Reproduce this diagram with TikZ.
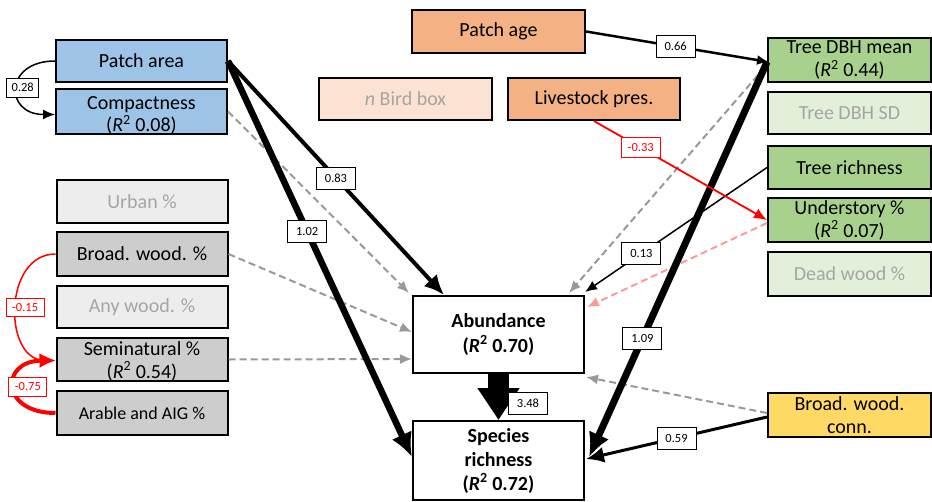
\documentclass[tikz,border=0pt]{standalone}
\usepackage{fontspec}
\setmainfont{Carlito}
\usetikzlibrary{arrows.meta,calc}
\definecolor{cblue}{HTML}{9DC3E6}
\definecolor{clgray}{HTML}{EDEDED}
\definecolor{cdgray}{HTML}{CDCDCD}
\definecolor{corange}{HTML}{F4B183}
\definecolor{clorange}{HTML}{FBE2D2}
\definecolor{cgreen}{HTML}{A9D18E}
\definecolor{clgreen}{HTML}{E2F0D9}
\definecolor{cyellow}{HTML}{FFD966}
\definecolor{cfaint}{HTML}{A5A5A5}
\definecolor{cdash}{HTML}{999999}
\definecolor{cpink}{HTML}{FF9A9A}
\definecolor{cred}{HTML}{FF0000}
\newcommand\RsqX{\textit{R}\textsuperscript{2}}
\begin{document}
\begin{tikzpicture}[x=1pt,y=-1pt,
  box/.style={draw=black,line width=2pt,align=center,inner sep=0pt,
    font=\fontsize{20}{23}\selectfont},
  lw/.style={box,minimum width=171pt},
  rw/.style={box,minimum width=163pt},
  h42/.style={minimum height=42pt},
  h44/.style={minimum height=44pt},
  faint/.style={text=cfaint},
  lab/.style={draw=black,fill=white,line width=0.9pt,inner sep=0pt,
    minimum width=39pt,minimum height=22pt,font=\fontsize{12.5}{14}\selectfont},
  llab/.style={lab,minimum width=32pt,minimum height=19pt},
  redlab/.style={draw=cred,text=cred,minimum width=38pt,minimum height=18pt},
  thinarr/.style={line width=1.5pt,-{Latex[length=12pt,width=10pt]}},
  grayarr/.style={cdash,line width=2pt,dash pattern=on 7pt off 4pt,
    -{Latex[length=12pt,width=10pt]}},
  pinkarr/.style={grayarr,draw=cpink},
  medarr/.style={line width=4pt,-{Latex[length=20pt,width=18pt]}},
  bigarr/.style={line width=6.5pt,-{Latex[length=24pt,width=22pt]}}
]
\useasboundingbox (0,0) rectangle (932,501);

% left column
\node[lw,h42,fill=cblue] (pa) at (141.5,61) {Patch area};
\node[lw,minimum height=41pt,fill=cblue,font=\fontsize{20}{22}\selectfont] (comp) at (141.5,111.5) {\rule{0pt}{21pt}Compactness\\(\RsqX{} 0.08)};
\node[lw,minimum height=43pt,fill=clgray,faint] (urban) at (142,201.5) {Urban \%};
\node[lw,h44,fill=cdgray] (bw) at (142,254) {Broad. wood. \%};
\node[lw,h42,fill=clgray,faint] (aw) at (142,307) {Any wood. \%};
\node[lw,minimum height=43pt,fill=cdgray] (semi) at (142,359.5) {\rule{0pt}{17pt}Seminatural \%\\(\RsqX{} 0.54)};
\node[lw,h44,fill=cdgray,font=\fontsize{18}{21}\selectfont] (arable) at (142,413) {Arable and AIG \%};

% top
\node[box,minimum width=173pt,minimum height=43pt,fill=corange] (age) at (498.5,31.5) {Patch age};
\node[box,minimum width=173pt,h42,fill=clorange,faint] (bird) at (405.5,99) {\textit{n} Bird box};
\node[box,minimum width=172pt,h42,fill=corange] (live) at (594,99) {Livestock pres.};

% right column
\node[rw,h44,fill=cgreen] (dbh) at (849.5,60) {Tree DBH mean\\(\RsqX{} 0.44)};
\node[rw,h42,fill=clgreen,faint] (dbhsd) at (849.5,113) {Tree DBH SD};
\node[rw,minimum height=43pt,fill=cgreen] (trich) at (849.5,167.5) {Tree richness};
\node[rw,h44,fill=cgreen] (under) at (849.5,220) {Understory \%\\(\RsqX{} 0.07)};
\node[rw,h44,fill=clgreen,faint] (dead) at (849.5,274) {Dead wood \%};
\node[rw,h44,fill=cyellow] (bwc) at (849.5,415) {Broad. wood.\\conn.};

% centre
\node[box,minimum width=171pt,minimum height=77pt,fill=white,font=\fontsize{20}{25}\selectfont\bfseries] (abund) at (498.5,334.5) {Abundance\\(\RsqX{} 0.70)};
\node[box,minimum width=171pt,minimum height=79pt,fill=white,font=\fontsize{20}{24}\selectfont\bfseries] (sr) at (498.5,460.5) {Species\\richness\\(\RsqX{} 0.72)};

% left curves
\draw[thinarr] (pa.west) .. controls (4,61) and (4,114.5) .. ($(comp.west)+(0,3)$)
  node[llab,pos=0.5,xshift=6pt] {0.28};
\draw[cred,line width=1.5pt,-{Latex[length=12pt,width=10pt]}] (bw.west) .. controls (3,254) and (3,360) .. ($(semi.west)+(0,1)$)
  node[llab,redlab,pos=0.5,xshift=9pt] {-0.15};
\draw[cred,line width=4pt,-{Latex[length=16pt,width=15pt]}] (arable.west) .. controls (0,413) and (0,361) .. ($(semi.west)+(0,1)$)
  node[llab,redlab,pos=0.5,xshift=14pt,minimum height=19pt] {-0.75};

% dashed gray into abundance
\draw[grayarr] (comp.east) -- ($(abund.north west)+(-3,-2)$);
\draw[grayarr] (bw.east) -- ($(abund.north west)+(0,37)$);
\draw[grayarr] (semi.east) -- ($(abund.north west)+(0,64)$);
\draw[grayarr] ($(dbh.west)+(-2,7)$) -- ($(abund.north east)+(-16,-2)$);
\draw[pinkarr] ($(under.west)+(0,3)$) -- ($(abund.north east)+(2,12)$);
\draw[grayarr] ($(bwc.west)+(0,-2)$) -- ($(abund.south east)+(1,3)$);

% black paths
\draw[medarr] (pa.east) -- ($(abund.north west)+(32,0)$) node[lab,pos=0.5] {0.83};
\draw[bigarr] (pa.east) -- ($(sr.north west)+(0,37)$) node[lab,pos=0.43] {1.02};
\draw[thinarr,line width=2.5pt] (age.east) -- ($(dbh.west)+(2,2)$) node[lab,pos=0.49] {0.66};
\draw[bigarr,line width=7pt] ($(dbh.west)+(0,2)$) -- ($(sr.north east)+(4,37)$) node[lab,pos=0.7] {1.09};
\draw[thinarr] (trich.west) -- ($(abund.north east)+(0,-3)$) node[lab,pos=0.69] {0.13};
\draw[cred,line width=1.8pt,-{Latex[length=13pt,width=11pt]}] (live.south) -- (under.west)
  node[lab,draw=cred,text=cred,pos=0.27,minimum height=20pt] {-0.33};
\draw[thinarr,line width=3pt,-{Latex[length=18pt,width=16pt]}] ($(bwc.west)+(0,2)$) -- ($(sr.north east)+(1,39)$) node[lab,pos=0.5] {0.59};
\draw[line width=21pt,-{Triangle[length=32pt,width=40pt]}] (abund.south) -- (sr.north);
\node[lab] (l348) at (528,403.5) {3.48};
\end{tikzpicture}
\end{document}
